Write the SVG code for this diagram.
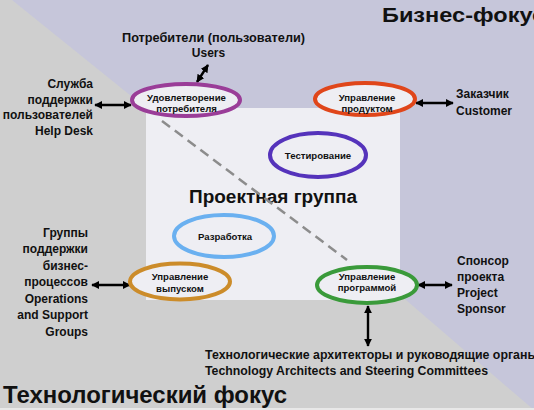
<svg xmlns="http://www.w3.org/2000/svg" width="534" height="410" viewBox="0 0 534 410">
<defs>
<marker id="ah" viewBox="0 0 10 10" refX="9" refY="5" markerWidth="8" markerHeight="8" markerUnits="userSpaceOnUse" orient="auto-start-reverse">
<path d="M0,0 L10,5 L0,10 z" fill="#000"/>
</marker>
<style>
.lbl{font-family:"Liberation Sans",Arial,sans-serif;font-weight:bold;font-size:12px;fill:#111}
.big{font-family:"Liberation Sans",Arial,sans-serif;font-weight:bold;fill:#111}
.el{fill:#eeeef3;stroke-width:4}
.et{font-family:"Liberation Sans",Arial,sans-serif;font-weight:bold;font-size:9.6px;fill:#111;text-anchor:middle}
.ar{stroke:#000;stroke-width:2.4;fill:none;marker-start:url(#ah);marker-end:url(#ah)}
</style>
</defs>
<rect width="534" height="410" fill="#c6c6da"/>
<polygon points="0,0 12,0 146,108 406,300 534,410 0,410" fill="#cfcfcf"/>
<rect x="0" y="408" width="534" height="2" fill="#e8e8e8"/>
<rect x="146" y="108" width="254" height="192" fill="#eeeef3"/>
<text class="big" x="382" y="22" font-size="21" textLength="163" lengthAdjust="spacingAndGlyphs">Бизнес-фокус</text>
<text class="big" x="3" y="403" font-size="23" textLength="284" lengthAdjust="spacingAndGlyphs">Технологический фокус</text>
<text class="big" x="189" y="203" font-size="18" textLength="168" lengthAdjust="spacingAndGlyphs">Проектная группа</text>
<g id="connectors">
<line x1="162" y1="121" x2="347" y2="260" stroke="#8c8c8c" stroke-width="2.5" stroke-dasharray="10,6"/>
<line class="ar" x1="197" y1="82" x2="208" y2="65"/>
<line class="ar" x1="95" y1="105" x2="131" y2="105"/>
<line class="ar" x1="416" y1="103" x2="453" y2="103"/>
<line class="ar" x1="92" y1="285" x2="130" y2="285"/>
<line class="ar" x1="418" y1="285" x2="452" y2="285"/>
<line class="ar" x1="368" y1="306" x2="368" y2="346"/>
</g>
<g id="users">
<text class="lbl" x="122" y="42" font-size="13" textLength="183" lengthAdjust="spacingAndGlyphs">Потребители (пользователи)</text>
<text class="lbl" x="208.5" y="57" font-size="13" text-anchor="middle">Users</text>
</g>
<g id="helpdesk" text-anchor="end">
<text class="lbl" x="93" y="88">Служба</text>
<text class="lbl" x="93" y="103.5">поддержки</text>
<text class="lbl" x="93" y="119">пользователей</text>
<text class="lbl" x="93" y="134.5">Help Desk</text>
</g>
<g id="operations" text-anchor="end">
<text class="lbl" x="88" y="236.5">Группы</text>
<text class="lbl" x="88" y="253">поддержки</text>
<text class="lbl" x="88" y="269.5">бизнес-</text>
<text class="lbl" x="88" y="286">процессов</text>
<text class="lbl" x="88" y="302.5">Operations</text>
<text class="lbl" x="88" y="319">and Support</text>
<text class="lbl" x="88" y="335.5">Groups</text>
</g>
<g id="customer">
<text class="lbl" x="456" y="98">Заказчик</text>
<text class="lbl" x="456" y="115">Customer</text>
</g>
<g id="sponsor">
<text class="lbl" x="457" y="264.5">Спонсор</text>
<text class="lbl" x="457" y="280.5">проекта</text>
<text class="lbl" x="457" y="296.5">Project</text>
<text class="lbl" x="457" y="312.5">Sponsor</text>
</g>
<g id="steering">
<text class="lbl" x="205" y="359" textLength="333" lengthAdjust="spacingAndGlyphs">Технологические архитекторы и руководящие органы</text>
<text class="lbl" x="205" y="375" textLength="283" lengthAdjust="spacingAndGlyphs">Technology Architects and Steering Committees</text>
</g>
<g id="satisfaction">
<ellipse class="el" cx="186" cy="100" rx="54" ry="16" stroke="#9a3d98"/>
<text class="et" x="186.5" y="100.5">Удовлетворение</text>
<text class="et" x="186.5" y="111.5">потребителя</text>
</g>
<g id="product">
<ellipse class="el" cx="365" cy="99" rx="50" ry="16" stroke="#e0461a"/>
<text class="et" x="367" y="100.5">Управление</text>
<text class="et" x="367" y="111.5">продуктом</text>
</g>
<g id="testing">
<ellipse class="el" cx="318" cy="155" rx="48" ry="22" stroke="#5533bb"/>
<text class="et" x="318" y="159" font-size="10.5">Тестирование</text>
</g>
<g id="development">
<ellipse class="el" cx="224" cy="236" rx="50" ry="21" stroke="#6ab0f0"/>
<text class="et" x="225" y="240" font-size="10.5">Разработка</text>
</g>
<g id="release">
<ellipse class="el" cx="180" cy="281.5" rx="50" ry="18" stroke="#cc8c2a"/>
<text class="et" x="180" y="279.5" font-size="10.5">Управление</text>
<text class="et" x="180" y="291.5" font-size="10.5">выпуском</text>
</g>
<g id="program">
<ellipse class="el" cx="367" cy="285" rx="50" ry="18" stroke="#3a9a3a"/>
<text class="et" x="367" y="280">Управление</text>
<text class="et" x="367" y="291">программой</text>
</g>
</svg>
